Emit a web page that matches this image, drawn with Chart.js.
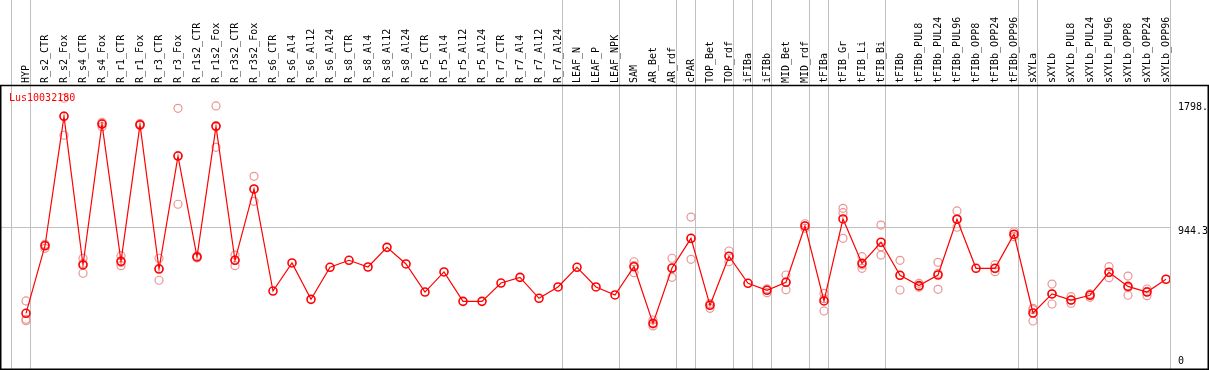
<!DOCTYPE html>
<html>
<head>
<meta charset="utf-8">
<script src="https://cdn.jsdelivr.net/npm/chart.js@4.4.1/dist/chart.umd.min.js"></script>
<style>
  html, body { margin: 0; padding: 0; background: #ffffff; }
  #wrap { width: 1209px; height: 370px; position: relative; }
</style>
</head>
<body>
<div id="wrap"><canvas id="chart1"></canvas></div>
<script>
"use strict";

// gene shown in the plot
const geneName = "Lus10032180";

// sample names (x axis)
const categories = [
    "HYP",
    "R_s2_CTR", "R_s2_Fox", "R_s4_CTR", "R_s4_Fox", "R_r1_CTR", "R_r1_Fox",
    "R_r3_CTR", "R_r3_Fox", "R_r1s2_CTR", "R_r1s2_Fox", "R_r3s2_CTR", "R_r3s2_Fox",
    "R_s6_CTR", "R_s6_Al4", "R_s6_Al12", "R_s6_Al24",
    "R_s8_CTR", "R_s8_Al4", "R_s8_Al12", "R_s8_Al24",
    "R_r5_CTR", "R_r5_Al4", "R_r5_Al12", "R_r5_Al24",
    "R_r7_CTR", "R_r7_Al4", "R_r7_Al12", "R_r7_Al24",
    "LEAF_N", "LEAF_P", "LEAF_NPK",
    "SAM", "AR_Bet", "AR_rdf",
    "cPAR",
    "TOP_Bet", "TOP_rdf",
    "iFIBa",
    "iFIBb",
    "MID_Bet", "MID_rdf",
    "tFIBa",
    "tFIB_Gr", "tFIB_Li", "tFIB_Bi",
    "tFIBb", "tFIBb_PUL8", "tFIBb_PUL24", "tFIBb_PUL96", "tFIBb_OPP8", "tFIBb_OPP24", "tFIBb_OPP96",
    "sXYLa",
    "sXYLb", "sXYLb_PUL8", "sXYLb_PUL24", "sXYLb_PUL96", "sXYLb_OPP8", "sXYLb_OPP24", "sXYLb_OPP96",
];

// index of the last sample of each group (-1 = line before the first one)
const groupEnds = [-1, 0, 28, 31, 34, 35, 37, 38, 39, 41, 42, 45, 52, 53, 60];

// mean expression
const meanValues = [
    355,
    819, 1708, 687, 1655, 712, 1650, 659, 1435, 742, 1639, 719, 1209,
    508, 701, 451, 671,
    719, 673, 808, 694,
    501, 639, 437, 437,
    563, 602, 458, 536,
    671, 536, 481,
    675, 286, 666,
    870,
    410, 747,
    561,
    513,
    568, 955,
    440,
    1003, 698, 843,
    616, 545, 618, 1001, 664, 664, 898,
    357,
    488, 446, 479, 637, 540, 501, 589,
];

// replicates (null = single sample)
const rep1 = [
    440,
    829, 1832, 733, 1667, 751, 1659, 733, 1763, 749, 1779, 755, 1296,
    null, null, null, null,
    null, null, null, null,
    null, null, null, null,
    null, null, null, null,
    null, null, null,
    709, 309, 733,
    1016,
    389, 783,
    null,
    497,
    618, 970,
    492,
    1076, 744, 961,
    719, 561, 705, 1058, null, 689, 915,
    389,
    556, 469, 465, 675, 611, 522, null,
];
const rep2 = [
    314,
    801, 1578, 630, 1637, 682, 1648, 582, 1104, 742, 1495, 682, 1124,
    null, null, null, null,
    null, null, null, null,
    null, null, null, null,
    null, null, null, null,
    null, null, null,
    634, 268, 602,
    726,
    419, 709,
    null,
    522,
    517, 939,
    371,
    1046, 664, 812,
    515, 534, 520, 946, null, 641, 881,
    302,
    419, 424, 488, 600, 479, 476, null,
];
const rep3 = [
    304,
    824, 1710, 697, 1662, 704, 1645, 663, 1439, 735, 1644, 720, 1206,
    null, null, null, null,
    null, null, null, null,
    null, null, null, null,
    null, null, null, null,
    null, null, null,
    682, 282, 663,
    867,
    422, 747,
    null,
    521,
    569, 955,
    455,
    870, 687, 755,
    614, 539, 629, 999, null, 662, 896,
    380,
    488, 446, 483, 635, 531, 506, null,
];

// y axis labels
const yTickValues = [0, 944.3, 1798];
const yTickLabels = ["0", "944.3", "1798."];

// ---- settings ----
const monoFamily = "'DejaVu Sans Mono', monospace";
const gridColor = "#c0c0c0";
const lineColor = "#ff0000";
const repColor = "#eb9494";
const xMin = -25 / 19;
const xMax = 60 + 4 / 19;
const gridShift = 4 / 19;

const toPoints = (values) => {
    const points = [];
    values.forEach((v, i) => {
        if (v !== null) points.push({ x: i, y: v });
    });
    return points;
};

// no extra label padding around the plot
const clearPadding = (scale) => {
    scale.paddingLeft = 0;
    scale.paddingRight = 0;
    scale.paddingTop = 0;
    scale.paddingBottom = 0;
};

// frame, gene name and y labels
const framePlugin = {
    id: "frame",
    afterDraw: (chart) => {
        const ctx = chart.ctx;
        const area = chart.chartArea;
        const yScale = chart.scales.y;
        ctx.save();
        ctx.font = `10px ${monoFamily}`;
        ctx.fillStyle = lineColor;
        ctx.textAlign = "left";
        ctx.textBaseline = "alphabetic";
        ctx.fillText(geneName, 9, 101);

        ctx.fillStyle = "#000000";
        ctx.textBaseline = "middle";
        yTickValues.forEach((v, i) => {
            const y = Math.min(yScale.getPixelForValue(v) + 4, area.bottom - 8);
            ctx.fillText(yTickLabels[i], area.right + 8, y);
        });

        ctx.strokeStyle = "#000000";
        ctx.lineWidth = 1.5;
        ctx.beginPath();
        ctx.moveTo(0, area.top + 0.5);
        ctx.lineTo(chart.width, area.top + 0.5);
        ctx.moveTo(0, area.bottom + 0.25);
        ctx.lineTo(chart.width, area.bottom + 0.25);
        ctx.moveTo(0.75, area.top);
        ctx.lineTo(0.75, area.bottom);
        ctx.moveTo(chart.width - 0.75, area.top);
        ctx.lineTo(chart.width - 0.75, area.bottom);
        ctx.stroke();
        ctx.restore();
    },
};

const chartData = {
    datasets: [
        {
            label: "mean",
            data: toPoints(meanValues),
            xAxisID: "x",
            yAxisID: "y",
            borderColor: lineColor,
            borderWidth: 1.2,
            pointRadius: 4,
            pointBorderWidth: 1.6,
            pointBorderColor: lineColor,
            pointBackgroundColor: "rgba(0,0,0,0)",
            tension: 0,
            order: 0,
        },
        {
            label: "replicates",
            type: "scatter",
            data: toPoints(rep1).concat(toPoints(rep2), toPoints(rep3)),
            xAxisID: "x",
            yAxisID: "y",
            pointRadius: 4,
            pointBorderWidth: 1.2,
            pointBorderColor: repColor,
            pointBackgroundColor: "rgba(0,0,0,0)",
            order: 1,
        },
    ],
};

const chartOptions = {
    responsive: true,
    maintainAspectRatio: false,
    animation: false,
    layout: { autoPadding: false, padding: { left: 1, right: 0, top: 0, bottom: 1 } },
    plugins: {
        legend: { display: false },
        tooltip: { enabled: false },
    },
    scales: {
        x: {
            type: "linear",
            position: "top",
            weight: 1,
            min: xMin,
            max: xMax,
            bounds: "data",
            afterBuildTicks: (scale) => {
                scale.ticks = categories.map((c, i) => ({ value: i }));
            },
            afterFit: (scale) => {
                scale.height = 85;
                clearPadding(scale);
            },
            grid: { display: false, drawTicks: false },
            border: { display: false },
            ticks: {
                autoSkip: false,
                minRotation: 90,
                maxRotation: 90,
                padding: 2,
                labelOffset: 12,
                color: "#000000",
                font: { family: monoFamily, size: 10 },
                callback: (value) => categories[value],
            },
        },
        xg: {
            type: "linear",
            position: "top",
            weight: 0,
            min: xMin,
            max: xMax,
            bounds: "data",
            afterBuildTicks: (scale) => {
                scale.ticks = groupEnds.map((i) => ({ value: i + gridShift }));
            },
            afterFit: (scale) => {
                scale.height = 0;
                clearPadding(scale);
            },
            grid: { color: gridColor, lineWidth: 1, drawTicks: true, tickLength: 85 },
            border: { display: false },
            ticks: { display: false },
        },
        y: {
            type: "linear",
            position: "right",
            min: -27.5,
            max: 1923,
            afterBuildTicks: (scale) => {
                scale.ticks = [{ value: yTickValues[1] }];
            },
            afterFit: (scale) => {
                scale.width = 39;
                clearPadding(scale);
            },
            grid: { color: gridColor, lineWidth: 1, drawTicks: false },
            border: { display: false },
            ticks: { display: false },
        },
    },
};

const context = document.getElementById("chart1").getContext("2d");
const myChart = new Chart(context, {
    type: "line",
    data: chartData,
    options: chartOptions,
    plugins: [framePlugin],
});
</script>
</body>
</html>
